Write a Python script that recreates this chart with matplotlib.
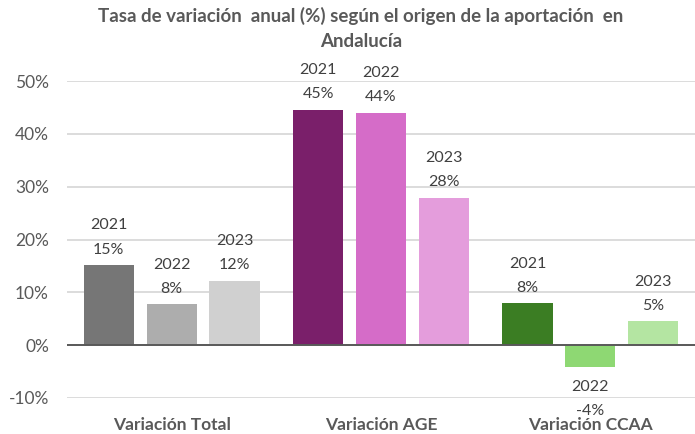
import numpy as np
from matplotlib import pyplot as plt

plt.rcParams['font.family'] = ['Lato', 'DejaVu Sans']

# ---------------------------- data ----------------------------
categories = ['Variación Total', 'Variación AGE', 'Variación CCAA']
years = ['2021', '2022', '2023']
values_total = [15.2, 7.7, 12.2]
values_age = [44.6, 44.0, 27.9]
values_ccaa = [7.9, -4.2, 4.5]
labels_total = ['15%', '8%', '12%']
labels_age = ['45%', '44%', '28%']
labels_ccaa = ['8%', '-4%', '5%']
yticks = [-10, 0, 10, 20, 30, 40, 50]

colors_total = ['#767676', '#adadad', '#d0d0d0']
colors_age = ['#7a1f6a', '#d56cc8', '#e49ddc']
colors_ccaa = ['#3b7d23', '#8ed873', '#b4e5a2']

groups = [(values_total, labels_total, colors_total),
          (values_age, labels_age, colors_age),
          (values_ccaa, labels_ccaa, colors_ccaa)]

text_color = '#595959'

figure = plt.figure(figsize=(6.95, 4.34), dpi=100)
axis = figure.add_axes([67 / 695, 1 - 398 / 434, 1 - 67 / 695, (398 - 81) / 434])

x = np.arange(len(categories))
width = 0.24
offsets = [-0.30, 0.0, 0.30]

# bars + two line labels (year / value)
for i, (vals, labs, cols) in enumerate(groups):
    for j in range(len(years)):
        xpos = x[i] + offsets[j]
        v = vals[j]
        axis.bar(xpos, v, width=width, color=cols[j], zorder=3)
        txt = years[j] + '\n' + labs[j]
        if v >= 0:
            axis.annotate(txt, (xpos, v), xytext=(0, 6), textcoords='offset points',
                          ha='center', va='bottom', fontsize=11.5, color='#404040',
                          linespacing=1.95, annotation_clip=False)
        else:
            axis.annotate(txt, (xpos, v), xytext=(0, -9), textcoords='offset points',
                          ha='center', va='top', fontsize=11.5, color='#404040',
                          linespacing=1.95, annotation_clip=False)

axis.set_xlim(-0.5, 2.5)
axis.set_ylim(-10, 50)
axis.set_yticks(yticks)
axis.set_yticklabels([str(t) + '%' for t in yticks], fontsize=12.5, color=text_color)
axis.yaxis.grid(True, color='#d9d9d9', linewidth=1.3, zorder=0)
axis.axhline(0, color='#595959', linewidth=1.4, zorder=4)
axis.set_xticks(x)
axis.set_xticklabels(categories, fontsize=12.5, fontweight='bold', color=text_color)
axis.tick_params(axis='y', length=0, pad=13)
axis.tick_params(axis='x', length=0, pad=14)
for s in axis.spines.values():
    s.set_visible(False)

figure.text(361 / 695, 1 - 7 / 434,
            'Tasa de variación  anual (%) según el origen de la aportación  en\nAndalucía',
            ha='center', va='top', fontsize=13.5, fontweight='bold', color=text_color,
            linespacing=1.55)

figure.savefig('out.png', dpi=100)
